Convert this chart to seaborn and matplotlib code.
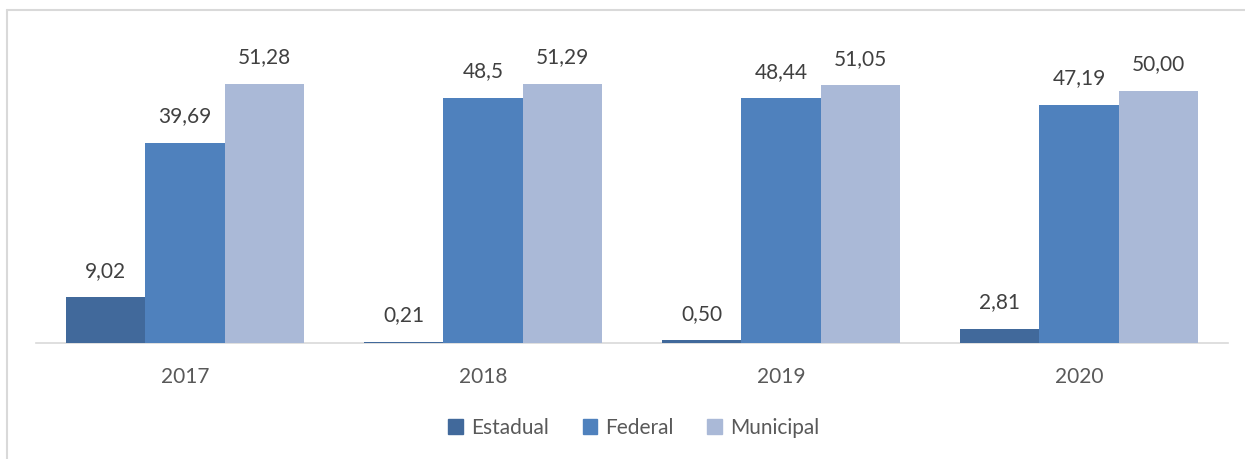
import matplotlib
matplotlib.use("Agg")
import matplotlib.pyplot as plt
from matplotlib.lines import Line2D
import seaborn as sns
import pandas as pd

# Percent share by administrative sphere, per year
years = ["2017", "2018", "2019", "2020"]
spheres = ["Estadual", "Federal", "Municipal"]
estadual = ["9,02", "0,21", "0,50", "2,81"]
federal = ["39,69", "48,5", "48,44", "47,19"]
municipal = ["51,28", "51,29", "51,05", "50,00"]
colors = ["#41699B", "#4F81BD", "#AAB9D7"]

def to_num(s):
    return float(s.replace(",", "."))

rows = []
for sphere, vals in zip(spheres, [estadual, federal, municipal]):
    for year, v in zip(years, vals):
        rows.append({"Ano": year, "Esfera": sphere, "Valor": to_num(v), "Rotulo": v})
df = pd.DataFrame(rows)

sns.set_theme(style="white")
plt.rcParams["font.family"] = ["Lato", "DejaVu Sans"]

fig = plt.figure(figsize=(12.45, 4.59), dpi=100)
W, H = 1245, 459
ax = fig.add_axes([36 / W, 1 - 343 / H, 1192 / W, 313 / H])

sns.barplot(data=df, x="Ano", y="Valor", hue="Esfera", hue_order=spheres,
            palette=colors, width=0.8, saturation=1, ax=ax, legend=False,
            linewidth=0)

for container, sphere in zip(ax.containers, spheres):
    labels = df[df["Esfera"] == sphere]["Rotulo"].tolist()
    ax.bar_label(container, labels=labels, padding=12, fontsize=15, color="#404040")

ax.set_xlim(-0.5, 3.5)
ax.set_ylim(0, 62)
ax.set_xlabel("")
ax.set_ylabel("")
ax.set_yticks([])
ax.tick_params(axis="x", length=0, labelsize=15, labelcolor="#595959", pad=17)
for side in ["top", "left", "right"]:
    ax.spines[side].set_visible(False)
ax.spines["bottom"].set_color("#D9D9D9")
ax.spines["bottom"].set_linewidth(1.2)
ax.spines["bottom"].set_zorder(0)

handles = [plt.Rectangle((0, 0), 1, 1, color=c) for c in colors]
fig.legend(handles, spheres, loc="center", bbox_to_anchor=(634 / W, 1 - 428 / H),
           ncol=3, frameon=False, fontsize=15, labelcolor="#595959",
           handlelength=0.7, handleheight=0.7, handletextpad=0.4, columnspacing=1.6)

# chart-area frame
frame_kw = dict(color="#D9D9D9", linewidth=1.5, transform=fig.transFigure)
fig.add_artist(Line2D([7 / W, 7 / W], [0, 1 - 10 / H], **frame_kw))
fig.add_artist(Line2D([7 / W, 1], [1 - 10 / H, 1 - 10 / H], **frame_kw))

fig.savefig("out.png", dpi=100)
